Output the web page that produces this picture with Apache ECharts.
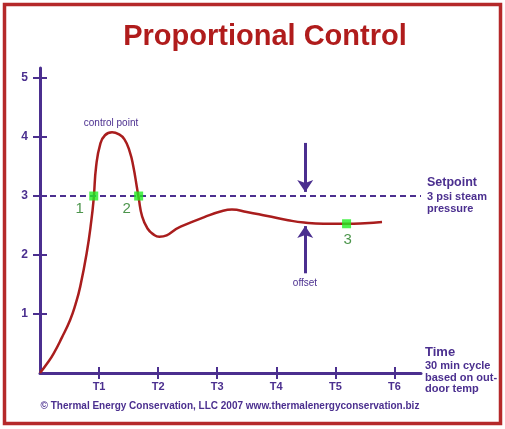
<!DOCTYPE html>
<html>
<head>
<meta charset="utf-8">
<script src="https://cdn.jsdelivr.net/npm/echarts@6/dist/echarts.min.js"></script>
<style>html,body{margin:0;padding:0;background:#fff;}#c{width:505px;height:429px;}</style>
</head>
<body>
<div id="c"></div>
<script>
// Process response curve: [time (T units), pressure (psi)]
var responseCurve = [
  [0,0],[0.12,0.16],[0.23,0.33],[0.37,0.6],[0.51,0.9],[0.6,1.16],[0.68,1.46],[0.79,2.03],
  [0.87,2.59],[0.91,2.97],[0.95,3.5],
  [1.02,3.88],[1.1,4.03],[1.22,4.08],[1.33,4.05],[1.43,3.96],[1.52,3.75],
  [1.58,3.5],[1.64,3.15],[1.67,2.97],[1.73,2.65],[1.82,2.45],[1.92,2.35],
  [2.02,2.31],[2.38,2.48],[2.8,2.65],[3.1,2.75],[3.25,2.77],[3.5,2.73],
  [3.85,2.66],[4.2,2.59],[4.47,2.55],[4.8,2.53],[5.19,2.53],[5.5,2.54],[5.79,2.56]
];
var markerPoints = [[0.91,3],[1.67,3],[5.19,2.53]];
var markerLabels = ['1','2','3'];
var setpoint = 3;
var offsetArrowX = 4.49;
var downArrow = [3.9, 3.07];
var upArrow = [1.69, 2.49];
var xTickValues = [1,2,3,4,5,6];
var xTickLabels = ['', 'T1','T2','T3','T4','T5','T6'];
var yTickValues = [1,2,3,4,5];
var yTickLabels = ['', '1','2','3','4','5'];

var purple = '#4b2f8f';
var red = '#a91d1d';
var green = '#1f7a1f';
var font = 'Liberation Sans, Arial, sans-serif';

var labelOffsets = [[-14,13],[-12,13],[1,16]];

var chart = echarts.init(document.getElementById('c'));
chart.setOption({
  animation: false,
  backgroundColor: '#fff',
  grid: {left: 40, right: 84, top: 68, bottom: 56, containLabel: false},
  xAxis: [{
    type: 'value', min: 0, max: 6.45, interval: 1,
    axisLine: {show: true, lineStyle: {color: purple, width: 3}},
    axisTick: {show: true, length: 6, customValues: xTickValues, lineStyle: {color: purple, width: 2}},
    splitLine: {show: false},
    axisLabel: {margin: 8, color: purple, fontFamily: font, fontWeight: 'bold', fontSize: 11,
      customValues: xTickValues,
      formatter: function (v) { return xTickLabels[v] || ''; }}
  }, {
    type: 'value', min: 0, max: 6.45, interval: 1, position: 'bottom',
    axisLine: {show: false},
    axisTick: {show: true, inside: true, length: 6, customValues: xTickValues, lineStyle: {color: purple, width: 2}},
    splitLine: {show: false}, axisLabel: {show: false}
  }],
  yAxis: [{
    type: 'value', min: 0, max: 5.17, interval: 1, position: 'left',
    axisLine: {show: true, lineStyle: {color: purple, width: 3}},
    axisTick: {show: true, length: 7, customValues: yTickValues, lineStyle: {color: purple, width: 2}},
    splitLine: {show: false},
    axisLabel: {margin: 12, color: purple, fontFamily: font, fontWeight: 'bold', fontSize: 12,
      customValues: yTickValues,
      formatter: function (v) { return yTickLabels[v] || ''; }}
  }, {
    type: 'value', min: 0, max: 5.17, interval: 1, position: 'left',
    axisLine: {show: false},
    axisTick: {show: true, inside: true, length: 7, customValues: yTickValues, lineStyle: {color: purple, width: 2}},
    splitLine: {show: false}, axisLabel: {show: false}
  }],
  series: [{
    type: 'line',
    data: responseCurve,
    smooth: 0.5,
    showSymbol: false,
    lineStyle: {color: red, width: 2.5},
    z: 3,
    markLine: {
      silent: true,
      symbol: ['none','none'],
      label: {show: false},
      lineStyle: {color: purple, width: 2, type: [6,4]},
      data: [{yAxis: setpoint}]
    }
  }, {
    type: 'line',
    data: [],
    markLine: {
      silent: true,
      symbol: ['none','arrow'],
      symbolSize: 12,
      label: {show: false},
      lineStyle: {color: purple, width: 3, type: 'solid'},
      data: [
        [{coord: [offsetArrowX, downArrow[0]]}, {coord: [offsetArrowX, downArrow[1]]}],
        [{coord: [offsetArrowX, upArrow[0]]}, {coord: [offsetArrowX, upArrow[1]]}]
      ]
    }
  }, {
    type: 'scatter',
    symbol: 'rect',
    symbolSize: 9,
    z: 5,
    itemStyle: {color: '#22ee22'},
    data: markerPoints.map(function (p, i) {
      return {value: p, label: {show: true, formatter: markerLabels[i], position: 'inside',
        offset: labelOffsets[i], color: green, fontSize: 15, fontFamily: font}};
    })
  }],
  graphic: [
    {type: 'rect', shape: {x: 4.5, y: 4.5, width: 496, height: 419}, style: {fill: 'none', stroke: '#b5292a', lineWidth: 3.5}},
    {type: 'text', x: 265, y: 37, style: {text: 'Proportional Control', font: 'bold 29px ' + font, fill: '#b01c1c', align: 'center', verticalAlign: 'middle'}},
    {type: 'text', x: 111, y: 123, style: {text: 'control point', font: '10px ' + font, fill: purple, align: 'center', verticalAlign: 'middle'}},
    {type: 'text', x: 305, y: 283, style: {text: 'offset', font: '10px ' + font, fill: purple, align: 'center', verticalAlign: 'middle'}},
    {type: 'text', x: 427, y: 183, style: {text: 'Setpoint', font: 'bold 12.5px ' + font, fill: purple, verticalAlign: 'middle'}},
    {type: 'text', x: 427, y: 197, style: {text: '3 psi steam', font: 'bold 11px ' + font, fill: purple, verticalAlign: 'middle'}},
    {type: 'text', x: 427, y: 209, style: {text: 'pressure', font: 'bold 11px ' + font, fill: purple, verticalAlign: 'middle'}},
    {type: 'text', x: 425, y: 352, style: {text: 'Time', font: 'bold 13px ' + font, fill: purple, verticalAlign: 'middle'}},
    {type: 'text', x: 425, y: 366, style: {text: '30 min cycle', font: 'bold 11px ' + font, fill: purple, verticalAlign: 'middle'}},
    {type: 'text', x: 425, y: 378, style: {text: 'based on out-', font: 'bold 11px ' + font, fill: purple, verticalAlign: 'middle'}},
    {type: 'text', x: 425, y: 389, style: {text: 'door temp', font: 'bold 11px ' + font, fill: purple, verticalAlign: 'middle'}},
    {type: 'text', x: 230, y: 406, style: {text: '\u00a9 Thermal Energy Conservation, LLC 2007 www.thermalenergyconservation.biz', font: 'bold 10px ' + font, fill: purple, align: 'center', verticalAlign: 'middle'}}
  ]
});
</script>
</body>
</html>
